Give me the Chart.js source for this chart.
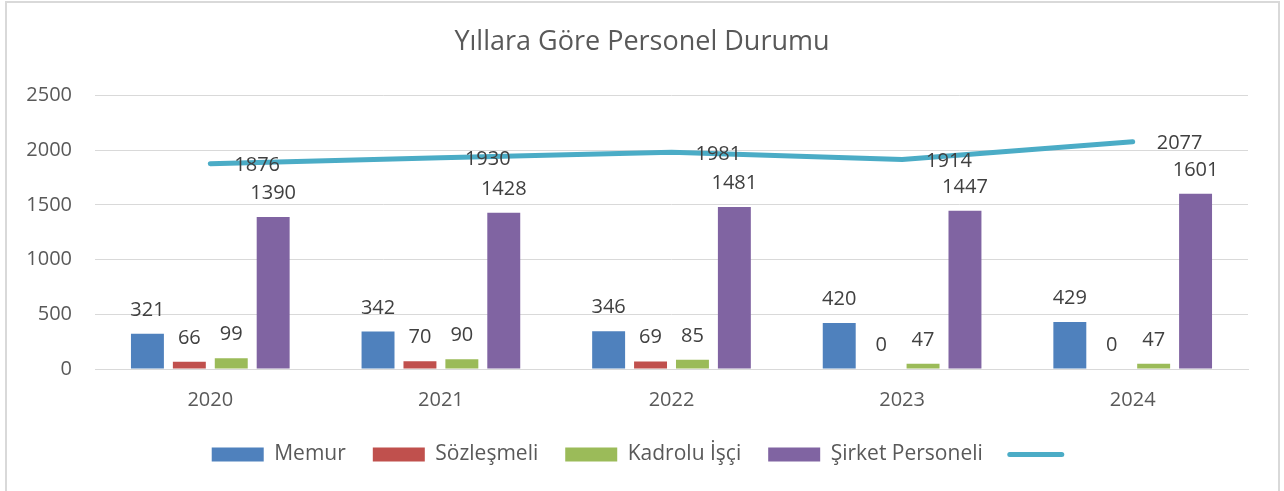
<!DOCTYPE html>
<html>
<head>
<meta charset="utf-8">
<script src="https://cdn.jsdelivr.net/npm/chart.js@4/dist/chart.umd.min.js"></script>
<style>
  html, body { margin: 0; padding: 0; background: #ffffff; }
  #wrap { position: relative; width: 1284px; height: 491px; }
  #frame { position: absolute; left: 5px; top: 1px; width: 1271px; height: 488px; border: 2px solid #d9d9d9; pointer-events: none; }
  canvas { position: absolute; left: 0; top: 0; }
</style>
</head>
<body>
<div id="wrap">
  <canvas id="c" width="1284" height="491"></canvas>
  <div id="frame"></div>
</div>
<script>
const titleText = 'Yıllara Göre Personel Durumu';
const years = ['2020', '2021', '2022', '2023', '2024'];
const memur = [321, 342, 346, 420, 429];
const sozlesmeli = [66, 70, 69, 0, 0];
const kadroluIsci = [99, 90, 85, 47, 47];
const sirketPersoneli = [1390, 1428, 1481, 1447, 1601];
const toplam = [1876, 1930, 1981, 1914, 2077];
const seriesNames = ['Memur', 'Sözleşmeli', 'Kadrolu İşçi', 'Şirket Personeli', ''];
const yTicks = [0, 500, 1000, 1500, 2000, 2500];

const FONT = "'Open Sans', 'DejaVu Sans', sans-serif";
const TEXT = '#595959';
const LABEL = '#404040';

const labelPlugin = {
  id: 'dataLabels',
  afterDatasetsDraw(chart) {
    const ctx = chart.ctx;
    ctx.save();
    ctx.font = '20px ' + FONT;
    ctx.fillStyle = LABEL;
    chart.data.datasets.forEach((ds, di) => {
      const meta = chart.getDatasetMeta(di);
      meta.data.forEach((el, i) => {
        const v = ds.data[i];
        if (ds.type === 'line') {
          ctx.textAlign = 'left';
          ctx.textBaseline = 'middle';
          ctx.fillText(String(v), el.x + 24, el.y + 2);
        } else {
          ctx.textAlign = 'center';
          ctx.textBaseline = 'alphabetic';
          ctx.fillText(String(v), el.x, el.y - 18);
        }
      });
    });
    ctx.restore();
  }
};

new Chart(document.getElementById('c'), {
  type: 'bar',
  data: {
    labels: years,
    datasets: [
      { label: seriesNames[0], data: memur, backgroundColor: '#4F81BD', order: 1 },
      { label: seriesNames[1], data: sozlesmeli, backgroundColor: '#C0504D', order: 1 },
      { label: seriesNames[2], data: kadroluIsci, backgroundColor: '#9BBB59', order: 1 },
      { label: seriesNames[3], data: sirketPersoneli, backgroundColor: '#8064A2', order: 1 },
      { type: 'line', label: seriesNames[4], data: toplam, borderColor: '#4BACC6', backgroundColor: '#4BACC6',
        borderWidth: 5, pointRadius: 0, tension: 0, borderCapStyle: 'round', borderJoinStyle: 'round', order: 0 }
    ]
  },
  options: {
    responsive: false,
    animation: false,
    devicePixelRatio: 1,
    categoryPercentage: 0.727,
    barPercentage: 0.786,
    layout: { padding: { left: 0, right: 0, top: 0, bottom: 16 } },
    plugins: {
      tooltip: { enabled: false },
      title: {
        display: true, text: titleText, color: TEXT,
        font: { family: FONT, size: 27, weight: 'normal' },
        padding: { top: 26, bottom: 37 }
      },
      legend: {
        position: 'bottom',
        labels: {
          usePointStyle: true,
          pointStyleWidth: 52,
          boxHeight: 14,
          color: TEXT,
          padding: 27,
          font: { family: FONT, size: 21 },
          sort: (a, b) => a.datasetIndex - b.datasetIndex,
          generateLabels(chart) {
            const items = Chart.defaults.plugins.legend.labels.generateLabels(chart);
            items.forEach(it => {
              const ds = chart.data.datasets[it.datasetIndex];
              if (ds.type === 'line') {
                it.pointStyle = 'line';
                it.lineWidth = 5;
                it.strokeStyle = ds.borderColor;
                it.lineCap = 'round';
              } else {
                it.pointStyle = 'rect';
                it.lineWidth = 0;
                it.strokeStyle = ds.backgroundColor;
              }
            });
            return items;
          }
        }
      }
    },
    scales: {
      x: {
        grid: { display: false, drawTicks: false },
        border: { display: true, color: '#d9d9d9', width: 1 },
        ticks: { color: TEXT, font: { family: FONT, size: 20 }, padding: 19 },
        afterFit(scale) { scale.height = 48; }
      },
      y: {
        min: 0, max: 2500,
        grid: { color: '#d9d9d9', lineWidth: 1, drawTicks: false },
        border: { display: false },
        afterBuildTicks(scale) { scale.ticks = yTicks.map(v => ({ value: v })); },
        ticks: { color: TEXT, font: { family: FONT, size: 20 }, padding: 23, callback: v => String(v) },
        afterFit(scale) { scale.width = 95; }
      },
      yRight: {
        position: 'right',
        grid: { display: false, drawTicks: false },
        border: { display: false },
        ticks: { display: false },
        afterFit(scale) { scale.width = 36; }
      }
    }
  },
  plugins: [labelPlugin]
});
</script>
</body>
</html>
